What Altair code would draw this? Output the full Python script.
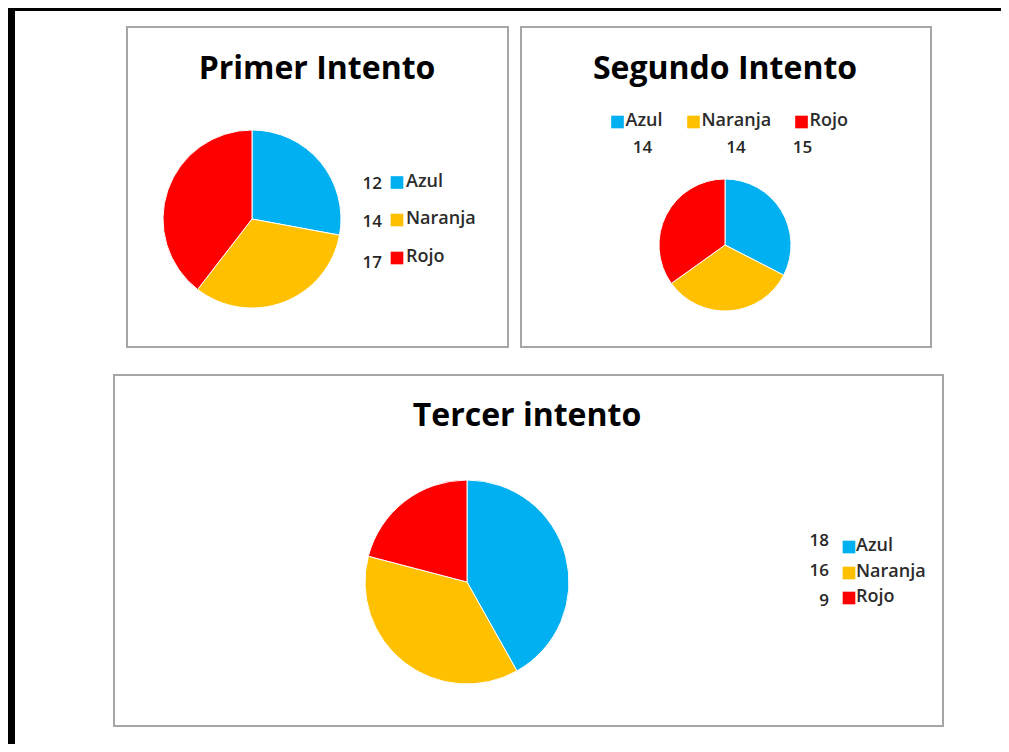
import altair as alt
import pandas as pd

# ---- data ----
categories = ["Azul", "Naranja", "Rojo"]
colors = ["#00B0F0", "#FFC000", "#FF0000"]
primer = [12, 14, 17]
segundo = [14, 14, 15]
tercer = [18, 16, 9]
titles = ["Primer Intento", "Segundo Intento", "Tercer intento"]

O = 8  # page margin (layout coordinates below are page pixels)
TITLE_FONT = "Open Sans"
FONT = "Open Sans"
color_scale = alt.Scale(domain=categories, range=colors)


def frame(vals):
    return pd.DataFrame({"cat": categories, "value": vals, "ord": [0, 1, 2]})


one = pd.DataFrame({"k": [0]})


def box(x1, y1, x2, y2, fill=None, stroke=None, sw=0):
    kw = {}
    if fill is not None:
        kw["fill"] = fill
    else:
        kw["fillOpacity"] = 0
    if stroke is not None:
        kw["stroke"] = stroke
        kw["strokeWidth"] = sw
    return alt.Chart(one).mark_rect(**kw).encode(
        x=alt.value(x1 - O), x2=alt.value(x2 - O), y=alt.value(y1 - O), y2=alt.value(y2 - O)
    )


def title(text, cx, by):
    return alt.Chart(pd.DataFrame({"t": [text]})).mark_text(
        font=TITLE_FONT, fontSize=32, fontWeight="bold", color="#000000",
        align="center", baseline="alphabetic"
    ).encode(x=alt.value(cx - O), y=alt.value(by - O), text="t:N")


def pie(df, cx, cy, r):
    return alt.Chart(df).mark_arc(radius=r, stroke="white", strokeWidth=1).encode(
        theta=alt.Theta("value:Q", stack=True),
        color=alt.Color("cat:N", scale=color_scale, legend=None),
        order=alt.Order("ord:Q"),
        x=alt.value(cx - O), y=alt.value(cy - O),
    )


def arr(vals):
    return "[" + ",".join(str(v - O) for v in vals) + "][datum.ord]"


def legend(df, sw_x, sw_y, lab_dx, num_x, num_y, num_align):
    base = alt.Chart(df).transform_calculate(
        sx=arr(sw_x), sy=arr(sw_y), nx=arr(num_x), ny=arr(num_y)
    )
    X = alt.X("sx:Q", scale=None, axis=None)
    Y = alt.Y("sy:Q", scale=None, axis=None)
    sw = base.mark_square(size=160, opacity=1, filled=True).encode(
        x=X, y=Y, color=alt.Color("cat:N", scale=color_scale, legend=None)
    )
    lab = base.mark_text(
        font=FONT, fontSize=18, fontWeight=600, color="#2b2b2b", align="left",
        baseline="middle", dx=lab_dx, dy=-1
    ).encode(x=X, y=Y, text="cat:N")
    num = base.mark_text(
        font=FONT, fontSize=17, fontWeight=600, color="#262626", align=num_align,
        baseline="alphabetic"
    ).encode(
        x=alt.X("nx:Q", scale=None, axis=None),
        y=alt.Y("ny:Q", scale=None, axis=None),
        text="value:Q",
    )
    return sw + lab + num


BORDER = "#A6A6A6"
layers = [
    # outer black frame
    box(8, 8, 15, 760, fill="#000000"),
    box(8, 8, 1020, 11, fill="#000000"),
    # panel borders
    box(127, 27, 508, 347, fill="white", stroke=BORDER, sw=2),
    box(521, 27, 931, 347, fill="white", stroke=BORDER, sw=2),
    box(114, 375, 943, 726, fill="white", stroke=BORDER, sw=2),
    # titles
    title(titles[0], 317, 79),
    title(titles[1], 725, 79),
    title(titles[2], 527, 426),
    # pies
    pie(frame(primer), 252, 219, 89),
    pie(frame(segundo), 725, 245, 66),
    pie(frame(tercer), 467, 582, 102),
    # legends
    legend(frame(primer), [397, 397, 397], [182.5, 220, 258], 9,
           [382, 382, 382], [189, 227, 268], "right"),
    legend(frame(segundo), [617.5, 693.5, 801.5], [122, 122, 122], 8,
           [642.5, 736, 802.5], [153, 153, 153], "center"),
    legend(frame(tercer), [849, 849, 849], [547, 573, 598], 7,
           [829, 829, 829], [546, 576, 606], "right"),
]

chart = alt.layer(*layers).resolve_scale(theta="independent").properties(
    width=993, height=736, padding=0, autosize="none", background="white"
).configure_view(strokeWidth=0)

chart.save("out.html", embed_options={"renderer": "svg", "actions": False})
